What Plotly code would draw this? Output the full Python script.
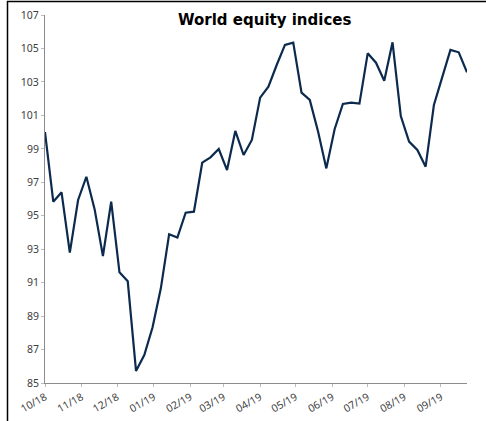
import plotly.graph_objects as go
import pandas as pd

# Weekly index values (base 100 at start)
dates = pd.date_range("2018-10-01", periods=52, freq="7D")
values = [100.0, 95.84, 96.4, 92.79, 95.94, 97.33, 95.38, 92.59, 95.84, 91.62,
          91.08, 85.72, 86.67, 88.33, 90.66, 93.89, 93.69, 95.18, 95.24, 98.17,
          98.49, 98.99, 97.73, 100.07, 98.63, 99.53, 102.06, 102.72, 104.01, 105.21,
          105.35, 102.36, 101.92, 100.03, 97.83, 100.17, 101.68, 101.76, 101.70, 104.71,
          104.15, 103.07, 105.37, 100.96, 99.43, 98.93, 97.93, 101.62, 103.27, 104.91,
          104.77, 103.57]
title_text = "World equity indices"
y_ticks = [85, 87, 89, 91, 93, 95, 97, 99, 101, 103, 105, 107]
x_ticks = pd.date_range("2018-10-01", "2019-09-01", freq="MS")

fig = go.Figure()
fig.add_trace(go.Scatter(x=dates, y=values, mode="lines",
                         line=dict(color="#0b2a4e", width=2.2), showlegend=False,
                         cliponaxis=False))

W, H = 486, 421
ml, mr, mt, mb = 45, 19, 15, 38
pw, ph = W - ml - mr, H - mt - mb

def px_x(p):
    return (p - ml) / pw

def px_y(p):
    return (H - mb - p) / ph

tickfont = dict(family="Noto Sans, DejaVu Sans, sans-serif", size=10.5, color="#404040")

fig.update_layout(
    width=W, height=H,
    margin=dict(l=ml, r=mr, t=mt, b=mb, autoexpand=False),
    paper_bgcolor="white", plot_bgcolor="white",
    xaxis=dict(range=[dates[0], dates[-1]], tickvals=list(x_ticks),
               ticktext=[d.strftime("%m/%y") for d in x_ticks],
               tickangle=-30, showgrid=False, zeroline=False, automargin=False,
               showline=True, linecolor="#8c8c8c", linewidth=1,
               ticks="outside", ticklen=3, tickcolor="#bbbbbb",
               tickfont=tickfont),
    yaxis=dict(range=[85, 107], tickvals=y_ticks, showgrid=False, zeroline=False,
               automargin=False,
               showline=True, linecolor="#8c8c8c", linewidth=1,
               ticks="outside", ticklen=3, tickcolor="#bbbbbb",
               tickfont=tickfont),
    annotations=[dict(text="<b>" + title_text + "</b>", xref="paper", yref="paper",
                      x=px_x(264.5), y=px_y(20), xanchor="center", yanchor="middle",
                      showarrow=False,
                      font=dict(family="DejaVu Sans, sans-serif", size=15, color="black"))],
    shapes=[
        dict(type="line", xref="paper", yref="paper", x0=px_x(7.5), x1=px_x(7.5),
             y0=px_y(1), y1=px_y(421), layer="above",
             line=dict(color="black", width=1.5)),
        dict(type="line", xref="paper", yref="paper", x0=px_x(7), x1=px_x(486),
             y0=px_y(1.5), y1=px_y(1.5), layer="above",
             line=dict(color="black", width=1.5)),
    ],
)

fig.write_html("out.html", config={"displayModeBar": False},
               post_script="document.body.style.margin='0';")
